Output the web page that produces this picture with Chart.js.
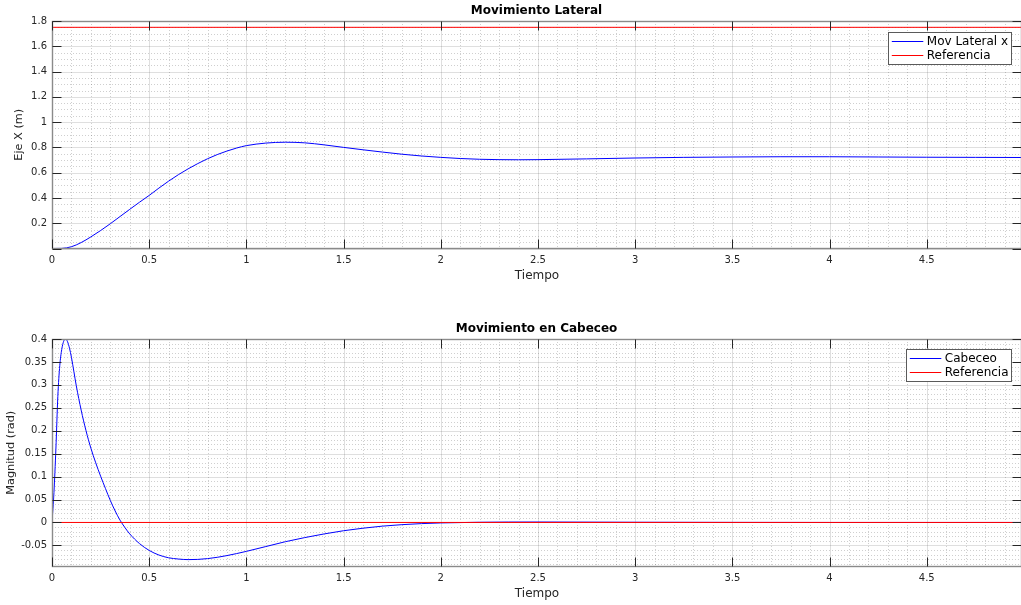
<!DOCTYPE html>
<html><head><meta charset="utf-8">
<script src="https://cdn.jsdelivr.net/npm/chart.js@4.4.0/dist/chart.umd.min.js"></script>
<style>
html,body{margin:0;padding:0;background:#fff;width:1021px;height:605px;overflow:hidden}
.wrap{position:absolute;left:0;width:1030px;height:287px}
canvas{display:block}
</style></head><body>
<div class="wrap" style="top:0"><canvas id="c1" width="1030" height="287"></canvas></div>
<div class="wrap" style="top:318px"><canvas id="c2" width="1030" height="287"></canvas></div>
<script>
// ---------- data ----------
const tiempoLateral = [0, 0.05, 0.1, 0.15, 0.2, 0.25, 0.3, 0.35, 0.4, 0.45, 0.5, 0.55, 0.6, 0.65, 0.7, 0.75, 0.8, 0.85, 0.9, 0.95, 1.0, 1.1, 1.2, 1.3, 1.4, 1.5, 1.6, 1.7, 1.8, 1.9, 2.0, 2.1, 2.2, 2.3, 2.4, 2.5, 2.75, 3.0, 3.25, 3.5, 3.75, 4.0, 4.25, 4.5, 4.75, 4.99];
const movLateral = [0, 0.001, 0.014, 0.047, 0.092, 0.142, 0.196, 0.253, 0.31, 0.366, 0.42, 0.478, 0.533, 0.584, 0.63, 0.672, 0.71, 0.743, 0.771, 0.795, 0.814, 0.834, 0.841, 0.836, 0.82, 0.80, 0.781, 0.763, 0.746, 0.732, 0.721, 0.712, 0.706, 0.703, 0.702, 0.703, 0.709, 0.716, 0.721, 0.724, 0.726, 0.726, 0.724, 0.722, 0.721, 0.72];
const tiempoRef = [0, 4.99];
const referenciaLateral = [1.75, 1.75];

const tiempoCabeceo = [0, 0.01, 0.02, 0.03, 0.04, 0.05, 0.06, 0.07, 0.08, 0.09, 0.1, 0.125, 0.15, 0.175, 0.2, 0.225, 0.25, 0.275, 0.3, 0.325, 0.35, 0.375, 0.4, 0.45, 0.5, 0.55, 0.6, 0.65, 0.7, 0.75, 0.8, 0.85, 0.9, 0.95, 1.0, 1.1, 1.2, 1.3, 1.4, 1.5, 1.6, 1.7, 1.8, 1.9, 2.0, 2.2, 2.5, 3.0, 3.5, 4.0, 4.99];
const cabeceo = [0, 0.065, 0.16, 0.275, 0.342, 0.377, 0.395, 0.4, 0.394, 0.38, 0.36, 0.298, 0.245, 0.2, 0.162, 0.13, 0.101, 0.074, 0.048, 0.025, 0.005, -0.011, -0.025, -0.046, -0.061, -0.071, -0.077, -0.0797, -0.081, -0.0805, -0.0788, -0.076, -0.0722, -0.0678, -0.063, -0.0525, -0.042, -0.033, -0.025, -0.018, -0.0125, -0.008, -0.0048, -0.0025, -0.001, 0.0005, 0.001, 0.0005, 0.0002, 0, 0];
const referenciaCabeceo = [0, 0];

const xTickStep = 0.5, xMinorStep = 0.1, xMin = 0, xMax = 4.99;
const yLatMin = 0, yLatMax = 1.8, yLatStep = 0.2, yLatMinor = 0.05;
const yCabMin = -0.096, yCabMax = 0.4, yCabStep = 0.05, yCabMinor = 0.01;

// ---------- helpers ----------
const FONT = "'DejaVu Sans', 'Liberation Sans', sans-serif";
const TXT = '#262626';
function pts(xs, ys) { return xs.map((x, i) => ({x: x, y: ys[i]})); }
function fmt(v) { return String(parseFloat(Number(v).toFixed(4))); }
function vals(min, max, step) {
  const out = [];
  const k0 = Math.ceil(min / step - 1e-6), k1 = Math.floor(max / step + 1e-6);
  for (let k = k0; k <= k1; k++) out.push(+(k * step).toFixed(6));
  return out;
}
function isMul(v, step) { const r = v / step; return Math.abs(r - Math.round(r)) < 1e-6; }

const framePlugin = {
  id: 'frame',
  beforeDatasetsDraw(chart, args, o) {
    const ctx = chart.ctx, a = chart.chartArea, xs = chart.scales.x, ys = chart.scales.y;
    ctx.save();
    // minor dotted grid
    ctx.strokeStyle = 'rgba(38,38,38,0.22)';
    ctx.lineWidth = 1;
    ctx.setLineDash([1, 2]);
    vals(xs.min, xs.max, o.xMinor).forEach(v => {
      if (isMul(v, o.xMajor)) return;
      const p = Math.round(xs.getPixelForValue(v)) + 0.5;
      ctx.beginPath(); ctx.moveTo(p, a.top); ctx.lineTo(p, a.bottom); ctx.stroke();
    });
    vals(ys.min, ys.max, o.yMinor).forEach(v => {
      if (isMul(v, o.yMajor)) return;
      const p = Math.round(ys.getPixelForValue(v)) + 0.5;
      ctx.beginPath(); ctx.moveTo(a.left, p); ctx.lineTo(a.right, p); ctx.stroke();
    });
    // major grid
    ctx.setLineDash([]);
    ctx.strokeStyle = 'rgba(38,38,38,0.15)';
    vals(xs.min, xs.max, o.xMajor).forEach(v => {
      const p = Math.round(xs.getPixelForValue(v)) + 0.5;
      ctx.beginPath(); ctx.moveTo(p, a.top); ctx.lineTo(p, a.bottom); ctx.stroke();
    });
    vals(ys.min, ys.max, o.yMajor).forEach(v => {
      const p = Math.round(ys.getPixelForValue(v)) + 0.5;
      ctx.beginPath(); ctx.moveTo(a.left, p); ctx.lineTo(a.right, p); ctx.stroke();
    });
    ctx.restore();
  },
  afterDatasetsDraw(chart, args, o) {
    const ctx = chart.ctx, a = chart.chartArea, xs = chart.scales.x, ys = chart.scales.y;
    ctx.save();
    const L = Math.round(a.left) + 0.5, R = Math.round(a.right) - 0.5;
    const T = Math.round(a.top) + 0.5, B = Math.round(a.bottom) - 0.5;
    // box
    ctx.strokeStyle = '#8a8a8a';
    ctx.lineWidth = 1.4;
    ctx.strokeRect(L, T, R - L, B - T);
    // inside ticks
    ctx.strokeStyle = TXT;
    ctx.lineWidth = 1;
    const tl = 9;
    vals(xs.min, xs.max, o.xMajor).forEach(v => {
      const p = Math.round(xs.getPixelForValue(v)) + 0.5;
      ctx.beginPath(); ctx.moveTo(p, B); ctx.lineTo(p, B - tl); ctx.stroke();
      ctx.beginPath(); ctx.moveTo(p, T); ctx.lineTo(p, T + tl); ctx.stroke();
    });
    vals(ys.min, ys.max, o.yMajor).forEach(v => {
      const p = Math.round(ys.getPixelForValue(v)) + 0.5;
      ctx.beginPath(); ctx.moveTo(L, p); ctx.lineTo(L + tl, p); ctx.stroke();
      ctx.beginPath(); ctx.moveTo(R, p); ctx.lineTo(R - tl, p); ctx.stroke();
    });
    // legend
    ctx.font = '12px ' + FONT;
    const items = chart.data.datasets.slice().sort((p, q) => p.legendIndex - q.legendIndex);
    let tw = 0;
    items.forEach(d => { tw = Math.max(tw, ctx.measureText(d.label).width); });
    const lineLen = 31.5, padL = 3.3, gap = 3.5, padR = 3.2, rowH = 14.2;
    const bw = padL + lineLen + gap + tw + padR;
    const bh = rowH * items.length + 3.2;
    const bx = Math.round(1011 - bw) + 0.5, by = Math.round(a.top + o.legendTop) + 0.5;
    ctx.fillStyle = '#fff';
    ctx.fillRect(bx, by, Math.round(bw), Math.round(bh));
    ctx.strokeStyle = '#5a5a5a';
    ctx.lineWidth = 1;
    ctx.strokeRect(bx, by, Math.round(bw), Math.round(bh));
    items.forEach((d, i) => {
      const cy = by + 1.6 + rowH * (i + 0.5);
      ctx.strokeStyle = d.borderColor;
      ctx.beginPath(); ctx.moveTo(bx + padL, Math.round(cy) + 0.5); ctx.lineTo(bx + padL + lineLen, Math.round(cy) + 0.5); ctx.stroke();
      ctx.fillStyle = '#000';
      ctx.textBaseline = 'middle';
      ctx.textAlign = 'left';
      ctx.fillText(d.label, bx + padL + lineLen + gap, cy + 0.5);
    });
    // title
    ctx.font = 'bold 12px ' + FONT;
    ctx.fillStyle = '#000';
    ctx.textAlign = 'center';
    ctx.textBaseline = 'middle';
    ctx.fillText(o.title, (a.left + 1021) / 2, 10.5);
    ctx.restore();
  }
};

function makeChart(id, cfg) {
  return new Chart(document.getElementById(id), {
    type: 'line',
    data: { datasets: cfg.datasets },
    options: {
      responsive: false,
      animation: false,
      devicePixelRatio: 1,
      events: [],
      layout: { padding: { top: 21, left: 0, right: 8, bottom: 0 } },
      elements: { point: { radius: 0 }, line: { borderWidth: 1, cubicInterpolationMode: 'monotone' } },
      plugins: {
        legend: { display: false },
        tooltip: { enabled: false },
        title: { display: false },
        frame: { title: cfg.title, xMajor: xTickStep, xMinor: xMinorStep, yMajor: cfg.yStep, yMinor: cfg.yMinor, legendTop: cfg.legendTop }
      },
      scales: {
        x: {
          type: 'linear', min: xMin, max: xMax,
          grid: { display: false, drawTicks: false, tickLength: 0 }, border: { display: false },
          ticks: { stepSize: xTickStep, includeBounds: false, padding: 5.5, color: TXT, font: { family: FONT, size: 10 }, callback: v => fmt(v) },
          title: { display: true, text: 'Tiempo', color: TXT, font: { family: FONT, size: 12 }, padding: { top: 0, bottom: 3.8 } },
          afterFit: s => { s.height = 38.5; }
        },
        y: {
          type: 'linear', min: cfg.yMin, max: cfg.yMax,
          grid: { display: false, drawTicks: false, tickLength: 0 }, border: { display: false },
          ticks: { stepSize: cfg.yStep, includeBounds: false, padding: 5, color: TXT, font: { family: FONT, size: 10 }, callback: v => (cfg.hideZero && Math.abs(v) < 1e-9) ? '' : fmt(v) },
          title: { display: true, text: cfg.yTitle, color: TXT, font: { family: FONT, size: 11.3 }, padding: { top: cfg.yTitlePad, bottom: 0 } },
          afterFit: s => { s.width = 52; }
        }
      }
    },
    plugins: [framePlugin]
  });
}

makeChart('c1', {
  title: 'Movimiento Lateral',
  yTitle: 'Eje X (m)', yTitlePad: 12,
  yMin: yLatMin, yMax: yLatMax, yStep: yLatStep, yMinor: yLatMinor, hideZero: true,
  legendTop: 11,
  datasets: [
    { label: 'Mov Lateral x', data: pts(tiempoLateral, movLateral), borderColor: '#0000ff', order: 1, legendIndex: 0 },
    { label: 'Referencia', data: pts(tiempoRef, referenciaLateral), borderColor: '#ff0000', order: 0, legendIndex: 1 }
  ]
});

makeChart('c2', {
  title: 'Movimiento en Cabeceo',
  yTitle: 'Magnitud (rad)', yTitlePad: 4,
  yMin: yCabMin, yMax: yCabMax, yStep: yCabStep, yMinor: yCabMinor, hideZero: false,
  legendTop: 10.3,
  datasets: [
    { label: 'Cabeceo', data: pts(tiempoCabeceo, cabeceo), borderColor: '#0000ff', order: 1, legendIndex: 0 },
    { label: 'Referencia', data: pts(tiempoRef, referenciaCabeceo), borderColor: '#ff0000', order: 0, legendIndex: 1 }
  ]
});
</script>
</body></html>
